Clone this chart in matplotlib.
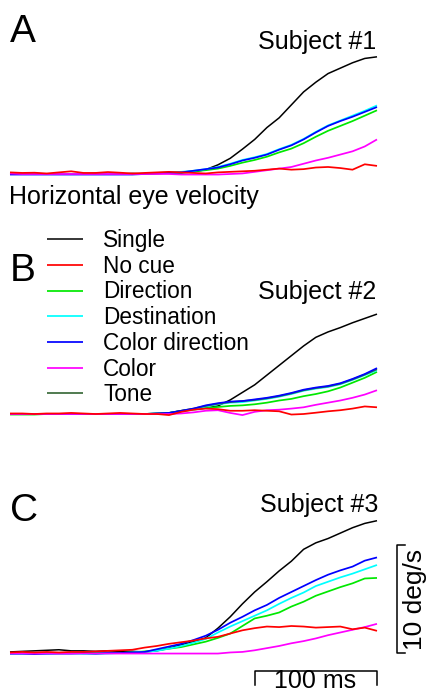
import matplotlib
matplotlib.use("Agg")
import matplotlib.pyplot as plt
import numpy as np

plt.rcParams['font.family'] = ['Liberation Sans', 'DejaVu Sans']

# time axis (ms), one sample every 10 ms
t = np.arange(0, 301, 10)

# ---- Subject #1 (deg/s)
a_single = [0.05, 0.0, 0.05, 0.0, 0.05, 0.0, 0.0, 0.05, 0.0, 0.0, 0.05, 0.0, 0.05, 0.1, 0.1,
            0.2, 0.4, 0.85, 1.45, 2.3, 3.2, 4.3, 5.2, 6.4, 7.6, 8.5, 9.3, 9.8, 10.3, 10.7, 10.85]
a_nocue = [0.15, 0.1, 0.12, 0.05, 0.15, 0.25, 0.1, 0.1, 0.18, 0.12, 0.05, 0.1, 0.15, 0.2, 0.15,
           0.1, 0.05, 0.15, 0.2, 0.25, 0.3, 0.4, 0.5, 0.4, 0.45, 0.6, 0.65, 0.55, 0.4, 0.9, 0.75]
a_direction = [0.0, 0.0, 0.0, 0.0, 0.0, 0.0, 0.0, 0.0, 0.0, 0.0, 0.0, 0.0, 0.05, 0.1, 0.15,
               0.25, 0.35, 0.5, 0.75, 1.05, 1.3, 1.6, 2.0, 2.35, 2.85, 3.45, 4.0, 4.45, 4.9, 5.4, 5.9]
a_destination = [0.0, 0.0, 0.0, 0.0, 0.0, 0.0, 0.0, 0.0, 0.0, 0.0, 0.0, 0.05, 0.1, 0.15, 0.2,
                 0.3, 0.45, 0.65, 0.95, 1.3, 1.55, 1.85, 2.3, 2.7, 3.25, 3.9, 4.5, 4.95, 5.4, 5.85, 6.35]
a_colordir = [-0.05, -0.05, -0.05, -0.05, -0.05, -0.05, -0.05, -0.05, -0.05, -0.05, -0.05, 0.0, 0.05, 0.1, 0.15,
              0.3, 0.45, 0.6, 0.9, 1.25, 1.5, 1.8, 2.25, 2.65, 3.2, 3.85, 4.45, 4.9, 5.3, 5.75, 6.2]
a_color = [0.05, 0.0, 0.0, 0.0, 0.0, 0.0, 0.0, 0.0, 0.0, 0.0, 0.0, 0.0, 0.0, 0.0, -0.05,
           -0.05, -0.05, -0.05, 0.0, 0.05, 0.2, 0.35, 0.5, 0.65, 0.95, 1.25, 1.5, 1.8, 2.1, 2.55, 3.2]

# ---- Subject #2
b_single = [0.0, 0.0, 0.0, 0.0, 0.0, 0.0, 0.0, 0.0, 0.0, 0.0, 0.0, 0.0, 0.0, 0.1, 0.3,
            0.45, 0.55, 0.75, 1.3, 2.0, 2.7, 3.6, 4.5, 5.4, 6.3, 7.1, 7.6, 8.0, 8.45, 8.85, 9.25]
b_nocue = [0.05, 0.05, 0.0, 0.05, 0.05, 0.1, 0.05, 0.0, 0.05, 0.1, 0.05, 0.0, 0.0, -0.1, 0.2,
           0.4, 0.5, 0.45, 0.3, 0.3, 0.35, 0.3, 0.25, -0.05, 0.0, 0.12, 0.25, 0.35, 0.5, 0.7, 0.62]
b_direction = [-0.05, -0.05, -0.05, 0.0, 0.0, 0.0, 0.0, 0.0, 0.0, 0.0, 0.0, 0.0, 0.05, 0.1, 0.25,
               0.4, 0.55, 0.65, 0.75, 0.8, 0.9, 1.05, 1.25, 1.4, 1.65, 1.85, 2.1, 2.45, 2.9, 3.35, 3.9]
b_destination = [0.0, 0.0, 0.0, 0.0, 0.0, 0.0, 0.0, 0.0, 0.0, 0.0, 0.0, 0.0, 0.05, 0.1, 0.25,
                 0.45, 0.7, 0.9, 1.05, 1.1, 1.25, 1.4, 1.6, 1.85, 2.15, 2.35, 2.5, 2.75, 3.15, 3.6, 4.05]
b_colordir = [0.0, 0.0, 0.0, 0.0, 0.0, 0.0, 0.0, 0.0, 0.0, 0.0, 0.0, 0.0, 0.05, 0.1, 0.3,
              0.5, 0.8, 1.0, 1.15, 1.2, 1.35, 1.5, 1.7, 1.95, 2.25, 2.45, 2.6, 2.85, 3.25, 3.7, 4.25]
b_color = [0.0, 0.0, 0.0, 0.0, 0.0, 0.0, 0.0, 0.0, 0.0, 0.0, 0.0, 0.0, 0.0, 0.0, 0.05,
           0.15, 0.3, 0.35, 0.1, -0.1, 0.2, 0.35, 0.4, 0.5, 0.62, 0.85, 1.05, 1.25, 1.5, 1.8, 2.2]
b_tone = [0.0, 0.0, 0.0, 0.0, 0.0, 0.0, 0.0, 0.0, 0.0, 0.0, 0.0, 0.0, 0.05, 0.1, 0.3,
          0.5, 0.75, 0.95, 1.1, 1.2, 1.3, 1.45, 1.65, 1.9, 2.2, 2.4, 2.55, 2.8, 3.2, 3.65, 4.15]

# ---- Subject #3
c_single = [0.1, 0.15, 0.2, 0.25, 0.3, 0.2, 0.2, 0.15, 0.2, 0.15, 0.15, 0.1, 0.2, 0.45, 0.75,
            1.05, 1.4, 2.3, 3.35, 4.55, 5.65, 6.6, 7.6, 8.5, 9.6, 10.2, 10.6, 11.1, 11.6, 12.0, 12.25]
c_nocue = [0.05, 0.1, 0.05, 0.1, 0.05, 0.1, 0.1, 0.15, 0.2, 0.25, 0.3, 0.5, 0.65, 0.85, 1.0,
           1.15, 1.35, 1.5, 1.8, 2.1, 2.3, 2.45, 2.4, 2.5, 2.45, 2.35, 2.4, 2.45, 2.2, 2.35, 2.05]
c_direction = [-0.05, -0.05, 0.0, 0.0, 0.0, 0.0, 0.0, 0.0, 0.0, 0.0, 0.05, 0.15, 0.25, 0.4, 0.55,
               0.8, 1.05, 1.4, 1.8, 2.5, 3.2, 3.45, 3.75, 4.3, 4.75, 5.3, 5.7, 6.1, 6.45, 6.9, 6.95]
c_destination = [-0.1, -0.1, -0.1, -0.1, -0.05, -0.05, -0.1, -0.1, -0.05, 0.0, 0.05, 0.1, 0.2, 0.4, 0.65,
                 0.95, 1.3, 1.9, 2.45, 2.95, 3.45, 3.95, 4.55, 5.1, 5.6, 6.2, 6.6, 7.0, 7.35, 7.75, 8.15]
c_colordir = [-0.05, -0.05, -0.1, -0.05, -0.05, -0.05, 0.0, -0.05, 0.0, 0.0, 0.05, 0.1, 0.35, 0.6, 0.85,
              1.2, 1.6, 2.15, 2.8, 3.35, 3.95, 4.45, 5.1, 5.65, 6.2, 6.75, 7.25, 7.65, 8.0, 8.55, 8.85]
c_color = [-0.05, -0.05, -0.05, -0.05, -0.05, -0.05, -0.05, -0.05, -0.05, -0.05, -0.05, -0.05, -0.05, -0.05, -0.05,
           -0.05, -0.05, -0.05, 0.05, 0.1, 0.25, 0.45, 0.65, 0.9, 1.1, 1.35, 1.65, 1.9, 2.15, 2.4, 2.7]

labels = ["Single", "No cue", "Direction", "Destination", "Color direction", "Color", "Tone"]
colors = ["black", "#ff0000", "#00e800", "#00ffff", "#0000ff", "#ff00ff", "#3a6b3a"]

scale_ms = 100
scale_deg = 10

W, H = 426, 694
PX_MS = 367 / 300.0
PX_DEG = 10.8
YLO, YHI = -3, 13

fig = plt.figure(figsize=(W / 100, H / 100), dpi=100)


def fx(px):
    return px / W


def fy(py):
    return 1 - py / H


def make_ax(baseline):
    bottom = baseline - YLO * PX_DEG
    ax = fig.add_axes([fx(10), fy(bottom), fx(300 * PX_MS), (YHI - YLO) * PX_DEG / H])
    ax.set_xlim(0, 300)
    ax.set_ylim(YLO, YHI)
    ax.axis('off')
    return ax


# draw order: black, green, cyan, tone, blue, magenta, red
order = [0, 2, 3, 6, 4, 5, 1]
panels = [
    (174, [a_single, a_nocue, a_direction, a_destination, a_colordir, a_color, None]),
    (414, [b_single, b_nocue, b_direction, b_destination, b_colordir, b_color, b_tone]),
    (653, [c_single, c_nocue, c_direction, c_destination, c_colordir, c_color, None]),
]
axes = []
for base, series in panels:
    ax = make_ax(base)
    for i in order:
        if series[i] is None:
            continue
        ax.plot(t, series[i], color=colors[i], lw=1.25 if i else 1.1,
                label=labels[i], clip_on=False, solid_capstyle='butt')
    axes.append(ax)

# legend in panel B
handles, labs = axes[1].get_legend_handles_labels()
hmap = dict(zip(labs, handles))
axes[1].legend([hmap[l] for l in labels], labels, loc='upper left',
               bbox_to_anchor=(fx(47), fy(229)), bbox_transform=fig.transFigure,
               frameon=False, fontsize=16.3, handlelength=1.6, handletextpad=0.88,
               labelspacing=0.12, borderpad=0, borderaxespad=0)

# panel letters and subject labels
for letter, ybase in [("A", 42.5), ("B", 281), ("C", 521)]:
    fig.text(fx(10), fy(ybase), letter, fontsize=28, va='baseline', ha='left')
for name, xr, ybase in [("Subject #1", 376, 49), ("Subject #2", 376, 299), ("Subject #3", 378, 512)]:
    fig.text(fx(xr), fy(ybase), name, fontsize=18, va='baseline', ha='right')
fig.text(fx(9), fy(204), "Horizontal eye velocity", fontsize=18, va='baseline', ha='left')

# scale bars in panel C
axc = axes[2]
xv = 316.5
tick_ms = 6.5
axc.plot([xv + tick_ms, xv, xv, xv + tick_ms], [0, 0, scale_deg, scale_deg],
         color='black', lw=1.1, clip_on=False)
yb = -1.64
tick_deg = 1.3
axc.plot([300 - scale_ms, 300 - scale_ms, 300, 300], [yb - tick_deg, yb, yb, yb - tick_deg],
         color='black', lw=1.1, clip_on=False)
axc.text(xv + 14.5, scale_deg / 2, "%d deg/s" % scale_deg, rotation=90, fontsize=19,
         ha='center', va='center', clip_on=False)
fig.text(fx(315), fy(693.5), "%d ms" % scale_ms, fontsize=18, ha='center', va='bottom')

fig.savefig("out.png", dpi=100)
